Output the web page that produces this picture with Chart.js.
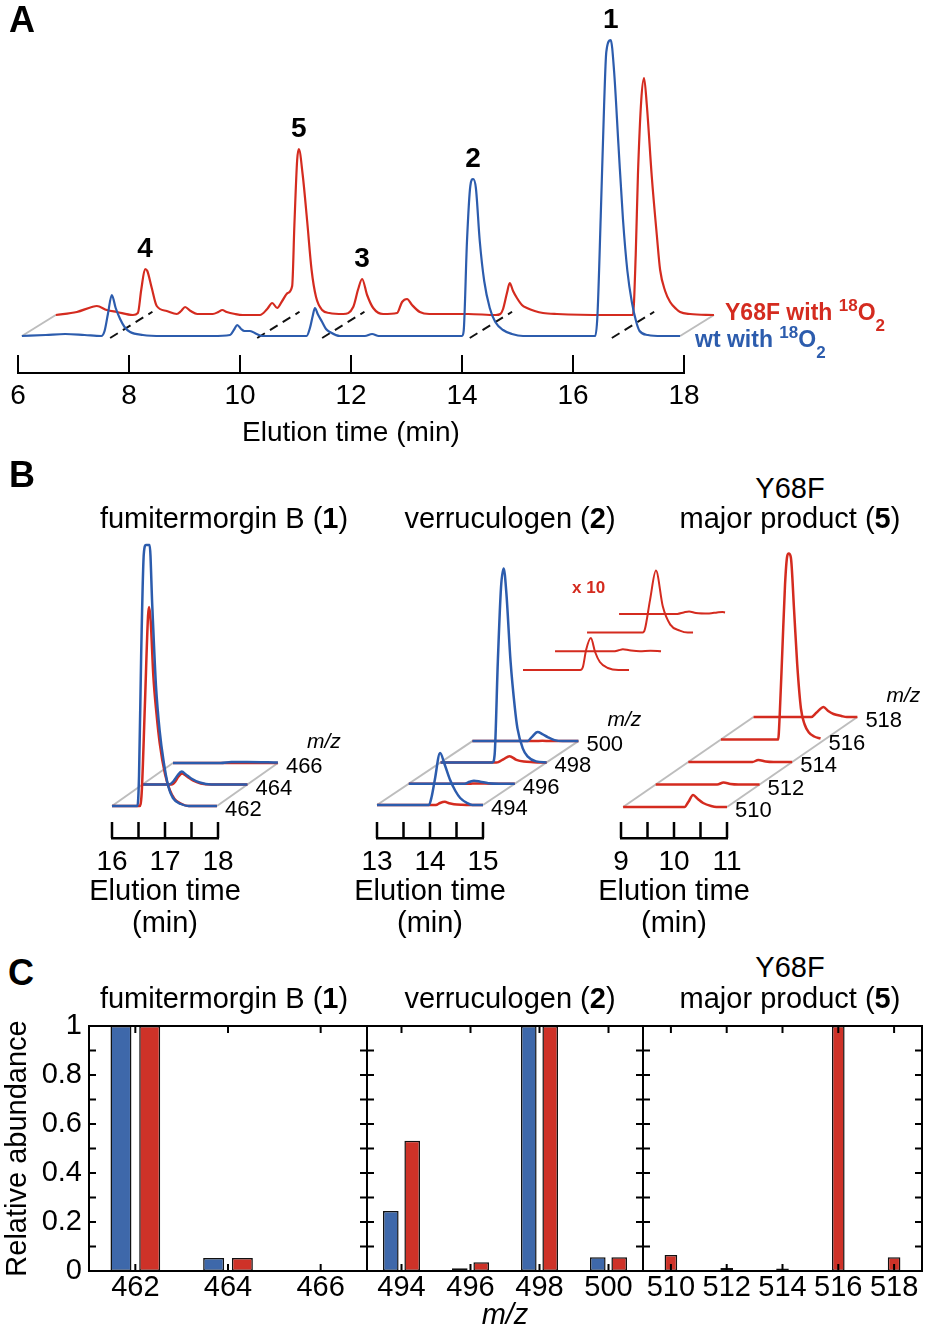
<!DOCTYPE html>
<html>
<head>
<meta charset="utf-8">
<script src="https://cdn.jsdelivr.net/npm/chart.js@4.4.1/dist/chart.umd.min.js"></script>
<style>
  html, body { margin: 0; padding: 0; background: #fff; }
  #fig { position: relative; width: 926px; height: 1330px; overflow: hidden;
         font-family: "Liberation Sans", Arial, sans-serif; color: #000; }
  canvas { position: absolute; }
  .t { position: absolute; white-space: nowrap; line-height: 1; }
  .c { transform: translateX(-50%); }
  .lg { font-weight: bold; font-size: 23px; }
  .lg sup, .lg sub { font-size: 17px; line-height: 0; position: relative; vertical-align: baseline; }
  .lg sup { top: -9px; }
  .lg sub { top: 11px; }
</style>
</head>
<body>
<div id="fig">
  <canvas id="chartA" width="926" height="460" style="left:0;top:0"></canvas>
  <canvas id="chartB1" width="300" height="410" style="left:60px;top:530px"></canvas>
  <canvas id="chartB2" width="420" height="410" style="left:340px;top:530px"></canvas>
  <canvas id="chartB3" width="346" height="410" style="left:580px;top:530px"></canvas>
  <canvas id="chartC1" width="380" height="330" style="left:0;top:1000px"></canvas>
  <canvas id="chartC2" width="320" height="330" style="left:340px;top:1000px"></canvas>
  <canvas id="chartC3" width="296" height="330" style="left:630px;top:1000px"></canvas>

  <div class="t" style="left:9px;top:2px;font-size:36px;font-weight:bold">A</div>
  <div class="t" style="left:9px;top:457px;font-size:36px;font-weight:bold">B</div>
  <div class="t" style="left:8px;top:955px;font-size:36px;font-weight:bold">C</div>

  <div class="t lg" style="left:725px;top:301px;color:#d42b1f">Y68F with <sup>18</sup>O<sub>2</sub></div>
  <div class="t lg" style="left:695px;top:328px;color:#2c5cad">wt with <sup>18</sup>O<sub>2</sub></div>

  <div class="t c" style="left:224px;top:504px;font-size:29px">fumitermorgin B (<b>1</b>)</div>
  <div class="t c" style="left:510px;top:504px;font-size:29px">verruculogen (<b>2</b>)</div>
  <div class="t c" style="left:790px;top:474px;font-size:29px">Y68F</div>
  <div class="t c" style="left:790px;top:504px;font-size:29px">major product (<b>5</b>)</div>
  <div class="t" style="left:572px;top:579px;font-size:17px;font-weight:bold;color:#d42b1f">x 10</div>

  <div class="t c" style="left:165px;top:876px;font-size:29px">Elution time</div>
  <div class="t c" style="left:165px;top:908px;font-size:29px">(min)</div>
  <div class="t c" style="left:430px;top:876px;font-size:29px">Elution time</div>
  <div class="t c" style="left:430px;top:908px;font-size:29px">(min)</div>
  <div class="t c" style="left:674px;top:876px;font-size:29px">Elution time</div>
  <div class="t c" style="left:674px;top:908px;font-size:29px">(min)</div>

  <div class="t c" style="left:224px;top:984px;font-size:29px">fumitermorgin B (<b>1</b>)</div>
  <div class="t c" style="left:510px;top:984px;font-size:29px">verruculogen (<b>2</b>)</div>
  <div class="t c" style="left:790px;top:953px;font-size:29px">Y68F</div>
  <div class="t c" style="left:790px;top:984px;font-size:29px">major product (<b>5</b>)</div>
</div>

<script>
// ---------- Panel A: total ion chromatograms, [time (min), signal (a.u.)] ----------
const WT_TRACE = [
  [6.07,0],[6.5,1],[6.85,2],[7.2,1],[7.5,0],[7.56,5],[7.62,22],[7.69,41],[7.76,28],[7.84,17],[7.92,9],
  [8.02,4],[8.25,1],[8.6,0],[9.5,0],[9.82,1],[9.9,7],[9.95,11],[10.02,7],[10.08,5],[10.18,5],[10.3,2],
  [10.41,0],[11.2,0],[11.26,8],[11.31,20],[11.35,28],[11.4,22],[11.48,14],[11.55,7],[11.62,4],[11.8,0],
  [12.25,0],[12.38,2],[12.5,0],[13.5,0],[14.0,0],[14.03,5],[14.09,95],[14.15,150],[14.2,157],[14.25,148],
  [14.32,95],[14.4,55],[14.5,28],[14.6,14],[14.74,6],[14.9,2],[15.1,0],[16.0,0],[16.4,0],[16.44,20],
  [16.5,120],[16.56,230],[16.6,284],[16.68,296],[16.74,265],[16.82,190],[16.9,117],[16.98,65],
  [17.06,34],[17.14,14],[17.2,5],[17.35,1],[17.6,0],[17.93,0]
];
const Y68F_TRACE = [
  [6.07,0],[6.45,3],[6.72,8],[6.81,9],[6.99,5],[7.17,3],[7.46,0],[7.55,2],[7.61,25],[7.68,46],[7.72,44],
  [7.8,27],[7.89,9],[8.07,4],[8.25,1],[8.33,4],[8.4,8],[8.5,4],[8.62,1],[8.9,1],[9.0,3],[9.07,5],[9.15,3],
  [9.3,1],[9.44,0],[9.75,0],[9.88,6],[9.97,12],[10.06,7],[10.15,14],[10.25,22],[10.33,29],[10.37,90],
  [10.42,155],[10.45,166],[10.52,140],[10.6,94],[10.68,45],[10.76,18],[10.87,5],[11.0,2],[11.25,1],
  [11.43,8],[11.52,26],[11.59,36],[11.68,20],[11.79,7],[11.97,1],[12.22,2],[12.31,13],[12.4,16],
  [12.49,10],[12.63,3],[12.8,1],[13.5,1],[14.0,0],[14.08,1],[14.13,6],[14.2,22],[14.25,32],[14.31,24],
  [14.38,17],[14.47,10],[14.56,7],[14.7,4],[14.85,2],[15.1,1],[16.0,0],[16.47,0],[16.52,60],[16.56,140],
  [16.62,215],[16.67,237],[16.72,210],[16.81,138],[16.9,80],[16.96,45],[17.05,24],[17.14,13],[17.25,6],
  [17.32,3],[17.5,1],[17.93,0]
];
const A_TICKS = [6, 8, 10, 12, 14, 16, 18];
const PEAK_LABELS = ['1', '2', '3', '4', '5'];
const PEAK_TRACE = ['wt', 'wt', 'Y68F', 'Y68F', 'Y68F'];
const PEAK_TIME = [16.68, 14.2, 11.59, 7.68, 10.45];
const DASH_TIMES = [7.66, 10.31, 11.48, 14.14, 16.7];

// ---------- Panel B: extracted ion chromatograms per m/z ----------
const B1_MZ = [462, 464, 466];
const B1_WT = [
  [[16,0],[16.48,0],[16.51,30],[16.55,150],[16.6,252],[16.64,261],[16.71,261],[16.76,200],[16.83,120],
   [16.9,75],[16.97,46],[17.06,20],[17.15,8],[17.3,2],[17.45,0],[17.98,0]],
  [[16,0],[16.5,0],[16.58,3],[16.66,9],[16.74,13],[16.82,10],[16.92,6],[17.08,2],[17.3,0],[17.98,0]],
  [[16,0],[16.9,0],[17.1,1],[17.4,1],[17.98,0.5]]
];
const B1_Y68F = [
  [[16,0],[16.52,0],[16.56,13],[16.62,100],[16.68,190],[16.7,199],[16.73,185],[16.78,130],[16.84,92],
   [16.9,63],[17.0,32],[17.09,16],[17.18,7],[17.28,3],[17.45,0],[17.98,0]],
  [[16,0],[16.55,0],[16.62,3],[16.68,8],[16.75,11],[16.84,8],[16.95,4],[17.1,1],[17.3,0],[17.98,0]],
  [[16,0],[17.98,0]]
];
const B2_MZ = [494, 496, 498, 500];
const B2_WT = [
  [[13,0],[13.98,0],[14.03,8],[14.09,25],[14.19,52],[14.28,40],[14.38,25],[14.48,14],[14.57,7],[14.7,2],[14.8,0],[15,0]],
  [[13,0],[14.05,0],[14.15,2],[14.23,3],[14.35,2],[14.5,0.5],[14.7,0],[15,0]],
  [[13,0],[13.98,0],[14.02,8],[14.08,101],[14.14,175],[14.19,194],[14.24,170],[14.32,101],[14.4,55],
   [14.45,34],[14.55,14],[14.64,6],[14.8,1],[15,0]],
  [[13,0],[14.04,0],[14.12,4],[14.23,9],[14.32,7],[14.42,4],[14.55,1],[14.7,0],[15,0]]
];
const B2_Y68F = [
  [[13,0],[14.08,0],[14.13,0.3],[14.19,2.0],[14.28,3.2],[14.36,1.8],[14.45,0.8],[14.6,0.2],[14.8,0],[15,0]],
  [[13,0],[14.1,0],[14.2,0.1],[14.28,0.2],[14.4,0.1],[14.6,0],[14.8,0.05],[15,0]],
  [[13,0],[14.05,0],[14.09,0.3],[14.19,3.3],[14.3,6.2],[14.43,2.6],[14.57,0.8],[14.75,0.2],[14.9,0],[15,0]],
  [[13,0],[14.1,0],[14.22,0.15],[14.32,0.25],[14.45,0.1],[14.7,0.05],[14.85,0.15],[14.95,0.2],[15,0.15]]
];
const B2_ZOOM = 10;
const B3_MZ = [510, 512, 514, 516, 518];
const B3_Y68F = [
  [[9.04,0],[10.2,0],[10.27,5],[10.36,12],[10.45,8],[10.55,4],[10.7,1],[10.8,0],[11.0,0]],
  [[9.04,0],[10.2,0],[10.32,2],[10.45,0.5],[10.6,0],[11.0,0]],
  [[9.04,0],[10.25,0],[10.36,2],[10.5,0.5],[10.65,0],[11.0,0]],
  [[9.04,0],[10.12,0],[10.15,25],[10.2,90],[10.25,155],[10.29,183],[10.32,186],[10.36,182],[10.42,130],
   [10.48,75],[10.55,31],[10.62,15],[10.7,7],[10.8,3],[10.92,1]],
  [[9.04,0],[10.13,0],[10.22,4],[10.3,8],[10.36,10],[10.45,6],[10.55,3],[10.7,1],[10.8,0],[11.0,0]]
];

// ---------- Panel C: relative abundance ----------
const C1_MZ = ['462', '464', '466'];
const C1_WT = [1, 0.053, 0.002];
const C1_Y68F = [1, 0.053, 0.002];
const C2_MZ = ['494', '496', '498', '500'];
const C2_WT = [0.245, 0.011, 1, 0.056];
const C2_Y68F = [0.532, 0.036, 1, 0.056];
const C3_MZ = ['510', '512', '514', '516', '518'];
const C3_Y68F = [0.065, 0.012, 0.01, 1, 0.056];

const BLUE = '#2c5cad';
const RED = '#d42b1f';
const GRAY = '#bdbdbd';
const BAR_BLUE = '#3e68aa';
const BAR_RED = '#ce3228';
const FONT = '"Liberation Sans", Arial, sans-serif';

Chart.defaults.font.family = FONT;
Chart.defaults.color = '#000';
Chart.defaults.animation = false;
Chart.defaults.events = [];
Chart.defaults.plugins.legend.display = false;
Chart.defaults.plugins.tooltip.enabled = false;

function shift(trace, dt, dv, k) {
  return trace.map(p => ({ x: p[0] + dt, y: p[1] * (k || 1) + dv }));
}

function lineSet(data, color, width, extra) {
  return Object.assign({
    data: data, borderColor: color, borderWidth: width, pointRadius: 0,
    fill: false, clip: false, cubicInterpolationMode: 'monotone'
  }, extra || {});
}

// tick marks pointing up from the axis line
function upTicks(len, width) {
  return {
    id: 'upTicks',
    afterDraw(chart) {
      const xs = chart.scales.x, ctx = chart.ctx, y0 = chart.chartArea.bottom;
      ctx.save();
      ctx.strokeStyle = '#000';
      ctx.lineWidth = width;
      ctx.beginPath();
      xs.ticks.forEach(t => {
        const px = xs.getPixelForValue(t.value);
        ctx.moveTo(px, y0);
        ctx.lineTo(px, y0 - len);
      });
      ctx.stroke();
      ctx.restore();
    }
  };
}

const T_SHIFT = 0.61;
const I_SHIFT = 21;

const peakLabels = {
  id: 'peakLabels',
  afterDatasetsDraw(chart) {
    const ctx = chart.ctx, xs = chart.scales.x, ys = chart.scales.y;
    ctx.save();
    ctx.font = 'bold 28px ' + FONT;
    ctx.textAlign = 'center';
    ctx.textBaseline = 'alphabetic';
    ctx.fillStyle = '#000';
    PEAK_LABELS.forEach((lab, i) => {
      const red = PEAK_TRACE[i] === 'Y68F';
      const trace = red ? Y68F_TRACE : WT_TRACE;
      const top = trace.find(p => p[0] === PEAK_TIME[i]);
      const px = xs.getPixelForValue(top[0] + (red ? T_SHIFT : 0));
      const py = ys.getPixelForValue(top[1] + (red ? I_SHIFT : 0));
      ctx.fillText(lab, px, py - 12);
    });
    ctx.restore();
  }
};

/* Panel A */
const dashSets = DASH_TIMES.map(t => lineSet(
  [{ x: t, y: -2 }, { x: t + 1.25 * T_SHIFT, y: 1.25 * I_SHIFT - 2 }],
  '#111', 2, { borderDash: [9, 6], cubicInterpolationMode: 'default' }));
const wtEnd = WT_TRACE[WT_TRACE.length - 1][0];

new Chart(document.getElementById('chartA'), {
  type: 'line',
  data: {
    datasets: [
      lineSet(shift(WT_TRACE, 0, 0), BLUE, 2.2),
      lineSet(shift(Y68F_TRACE, T_SHIFT, I_SHIFT), RED, 2.2),
      ...dashSets,
      lineSet([{ x: WT_TRACE[0][0], y: 0 }, { x: WT_TRACE[0][0] + T_SHIFT, y: I_SHIFT }], GRAY, 2, { cubicInterpolationMode: 'default' }),
      lineSet([{ x: wtEnd, y: 0 }, { x: wtEnd + T_SHIFT, y: I_SHIFT }], GRAY, 2, { cubicInterpolationMode: 'default' })
    ]
  },
  options: {
    responsive: false,
    layout: { padding: { left: 18, right: 242, top: 0, bottom: 0 } },
    scales: {
      x: {
        type: 'linear',
        afterDataLimits: s => { s.min = A_TICKS[0]; s.max = A_TICKS[A_TICKS.length - 1]; },
        ticks: { stepSize: 2, autoSkip: false, maxRotation: 0, padding: 6, font: { size: 28 } },
        grid: { display: false, drawTicks: false },
        border: { display: true, color: '#000', width: 2 },
        title: { display: true, text: 'Elution time (min)', font: { size: 28 }, padding: { top: 0, bottom: 10 } },
        afterFit: s => { s.height = 87; }
      },
      y: { display: false, min: -37, max: 336 }
    }
  },
  plugins: [upTicks(18, 2), peakLabels]
});

/* Panel B waterfalls */
function makeWaterfall(id, cfg) {
  const sets = [];
  cfg.masses.forEach((m, k) => {
    if (cfg.wt) sets.push(lineSet(shift(cfg.wt[k], k * cfg.dt, k * cfg.dv), BLUE, 2.5));
    sets.push(lineSet(shift(cfg.y68f[k], k * cfg.dt, k * cfg.dv), RED, 2.5));
  });
  if (cfg.inset) {
    const s = cfg.inset;
    cfg.y68f.forEach((tr, k) => {
      sets.push(lineSet(shift(tr, s.dt0 + k * s.dt, s.dv0 + k * s.dv, s.zoom), RED, 2));
    });
  }
  const n = cfg.masses.length - 1;
  const front = cfg.y68f[0];
  const t0 = front[0][0], t1 = front[front.length - 1][0];
  sets.push(lineSet([{ x: t0, y: 0 }, { x: t0 + n * cfg.dt, y: n * cfg.dv }], GRAY, 2, { cubicInterpolationMode: 'default' }));
  sets.push(lineSet([{ x: t1, y: 0 }, { x: t1 + n * cfg.dt, y: n * cfg.dv }], GRAY, 2, { cubicInterpolationMode: 'default' }));

  const massLabels = {
    id: 'massLabels',
    afterDraw(chart) {
      const ctx = chart.ctx, xs = chart.scales.x, ys = chart.scales.y;
      ctx.save();
      ctx.fillStyle = '#000';
      ctx.textBaseline = 'middle';
      ctx.textAlign = 'left';
      let lx = 0, ly = 0;
      cfg.masses.forEach((m, k) => {
        const tr = cfg.y68f[k];
        const end = tr[tr.length - 1][0];
        lx = xs.getPixelForValue(end + k * cfg.dt) + 8;
        ly = ys.getPixelForValue(k * cfg.dv) + 4;
        ctx.font = '22px ' + FONT;
        ctx.fillText(String(m), lx, ly);
      });
      ctx.font = 'italic 21px ' + FONT;
      ctx.textAlign = 'center';
      ctx.fillText('m/z', lx + 38, ly - 25);
      ctx.restore();
    }
  };

  return new Chart(document.getElementById(id), {
    type: 'line',
    data: { datasets: sets },
    options: {
      responsive: false,
      layout: { padding: { left: cfg.padLeft, right: cfg.padRight, top: 0, bottom: 0 } },
      scales: {
        x: {
          type: 'linear',
          afterDataLimits: s => { s.min = cfg.tMin; s.max = cfg.tMax; },
          ticks: {
            stepSize: 0.5, autoSkip: false, maxRotation: 0, padding: 7, font: { size: 28 },
            callback: v => Number.isInteger(v) ? String(v) : ''
          },
          grid: { display: false, drawTicks: false },
          border: { display: true, color: '#000', width: 2.5 },
          afterFit: s => { s.height = 102; }
        },
        y: { display: false, min: cfg.vMin, max: cfg.vMin + 308 }
      }
    },
    plugins: [upTicks(16, 2.5), massLabels]
  });
}

makeWaterfall('chartB1', {
  masses: B1_MZ, wt: B1_WT, y68f: B1_Y68F, dt: 0.575, dv: 21.5,
  tMin: 16, tMax: 18, vMin: -32, padLeft: 52, padRight: 142
});
makeWaterfall('chartB2', {
  masses: B2_MZ, wt: B2_WT, y68f: B2_Y68F, dt: 0.6, dv: 21.3,
  tMin: 13, tMax: 15, vMin: -33, padLeft: 37, padRight: 277,
  inset: { zoom: B2_ZOOM, dt0: 2.755, dv0: 135, dt: 0.604, dv: 18.7 }
});
makeWaterfall('chartB3', {
  masses: B3_MZ, wt: null, y68f: B3_Y68F, dt: 0.615, dv: 22.5,
  tMin: 9, tMax: 11, vMin: -31, padLeft: 41, padRight: 199
});

/* Panel C bar charts */
const frame = {
  id: 'frame',
  afterDraw(chart) {
    const ctx = chart.ctx, a = chart.chartArea, xs = chart.scales.x, ys = chart.scales.y;
    ctx.save();
    ctx.strokeStyle = '#000';
    ctx.lineWidth = 2;
    ctx.strokeRect(a.left, a.top, a.right - a.left, a.bottom - a.top);
    ctx.beginPath();
    for (let i = 1; i < 10; i++) {
      const py = ys.getPixelForValue(i / 10);
      ctx.moveTo(a.left, py); ctx.lineTo(a.left + 7, py);
      ctx.moveTo(a.right, py); ctx.lineTo(a.right - 7, py);
    }
    chart.data.labels.forEach((l, i) => {
      const px = xs.getPixelForValue(i);
      ctx.moveTo(px, a.bottom); ctx.lineTo(px, a.bottom - 7);
      ctx.moveTo(px, a.top); ctx.lineTo(px, a.top + 7);
    });
    ctx.stroke();
    ctx.restore();
  }
};

function barSet(values, color, catPct, barPct) {
  return {
    data: values, backgroundColor: color, borderColor: '#111', borderWidth: 1.5,
    borderSkipped: false, categoryPercentage: catPct, barPercentage: barPct
  };
}

function makeBars(id, labels, sets, opt) {
  return new Chart(document.getElementById(id), {
    type: 'bar',
    data: { labels: labels, datasets: sets },
    options: {
      responsive: false,
      layout: { padding: { left: opt.padLeft, right: opt.padRight, top: 26, bottom: 0 } },
      scales: {
        x: {
          grid: { display: false, drawTicks: false },
          border: { display: false },
          ticks: { autoSkip: false, maxRotation: 0, padding: 0, font: { size: 29 } },
          title: {
            display: !!opt.xTitle, text: opt.xTitle || '',
            font: { size: 29, style: 'italic', lineHeight: 1 }, padding: { top: 0, bottom: 0 }
          },
          afterFit: s => { s.height = 59; }
        },
        y: {
          display: !!opt.yAxis,
          min: 0, max: 1,
          grid: { display: false, drawTicks: false },
          border: { display: false },
          ticks: {
            stepSize: 0.1, autoSkip: false, padding: 7, font: { size: 29 },
            callback: (v, i) => i % 2 === 0 ? String(Math.round(v * 10) / 10) : ''
          },
          title: {
            display: !!opt.yAxis, text: 'Relative abundance', font: { size: 29 },
            padding: { top: 1, bottom: 0 }
          },
          afterFit: s => { s.width = opt.yAxis ? 89 : 0; }
        }
      }
    },
    plugins: [frame]
  });
}

makeBars('chartC1', C1_MZ,
  [barSet(C1_WT, BAR_BLUE, 0.62, 0.73), barSet(C1_Y68F, BAR_RED, 0.62, 0.73)],
  { padLeft: 0, padRight: 13, yAxis: true });
makeBars('chartC2', C2_MZ,
  [barSet(C2_WT, BAR_BLUE, 0.62, 0.73), barSet(C2_Y68F, BAR_RED, 0.62, 0.73)],
  { padLeft: 27, padRight: 17, xTitle: 'm/z' });
makeBars('chartC3', C3_MZ,
  [barSet(C3_Y68F, BAR_RED, 0.31, 0.73)],
  { padLeft: 13, padRight: 4 });
</script>
</body>
</html>
